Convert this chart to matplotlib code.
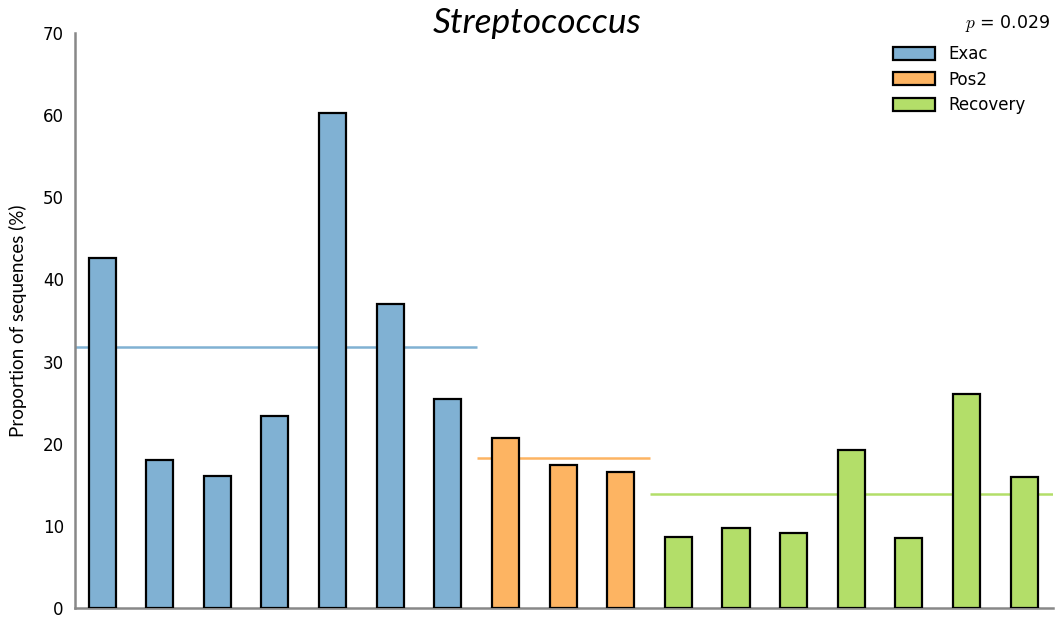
import numpy as np
import matplotlib
matplotlib.use("Agg")
import matplotlib.pyplot as plt
from matplotlib.patches import Patch

plt.rcParams["font.family"] = "DejaVu Sans"
plt.rcParams["mathtext.fontset"] = "cm"

# Proportion of Streptococcus sequences per sample (%)
groups = ["Exac", "Pos2", "Recovery"]
exac = [42.6, 18.0, 16.1, 23.4, 60.3, 37.0, 25.4]
pos2 = [20.7, 17.4, 16.6]
recovery = [8.6, 9.7, 9.1, 19.2, 8.5, 26.1, 15.9]
colors = ["#80b1d3", "#fdb462", "#b3de69"]
p_value = 0.029

fig = plt.figure(figsize=(10.59, 6.17), dpi=100)
ax = fig.add_axes([0.0708, 0.0146, 0.9235, 0.932])

start = 0
for values, color, name in zip([exac, pos2, recovery], colors, groups):
    x = np.arange(start, start + len(values))
    ax.bar(x, values, width=0.47, color=color, edgecolor="black", linewidth=1.6, zorder=3)
    # group mean line
    ax.plot([x[0] - 0.5, x[-1] + 0.5], [np.mean(values)] * 2, color=color,
            linewidth=1.8, zorder=2, solid_capstyle="butt")
    start += len(values)

ax.set_xlim(-0.47, 16.5)
ax.set_ylim(0, 70)
ax.set_yticks(range(0, 71, 10))
ax.set_xticks([])
ax.tick_params(axis="y", length=0, labelsize=12, pad=8)
for side in ["top", "right"]:
    ax.spines[side].set_visible(False)
for side in ["left", "bottom"]:
    ax.spines[side].set_color("#888888")
    ax.spines[side].set_linewidth(1.8)

ax.set_ylabel("Proportion of sequences (%)", fontsize=13.5, family="Lato", labelpad=11)

handles = [Patch(facecolor=c, edgecolor="black", linewidth=1.6, label=g)
           for c, g in zip(colors, groups)]
ax.legend(handles=handles, loc="upper right", bbox_to_anchor=(0.987, 1.005), frameon=False,
          fontsize=12, handlelength=2.5, handleheight=0.8, labelspacing=0.45)

fig.text(0.9915, 0.962, r"$p$ = %.3f" % p_value, ha="right", va="center", fontsize=12.5)
fig.text(0.507, 0.962, "Streptococcus", ha="center", va="center", fontsize=25.5,
         style="italic", family="Lato")

fig.savefig("out.png", dpi=100)
